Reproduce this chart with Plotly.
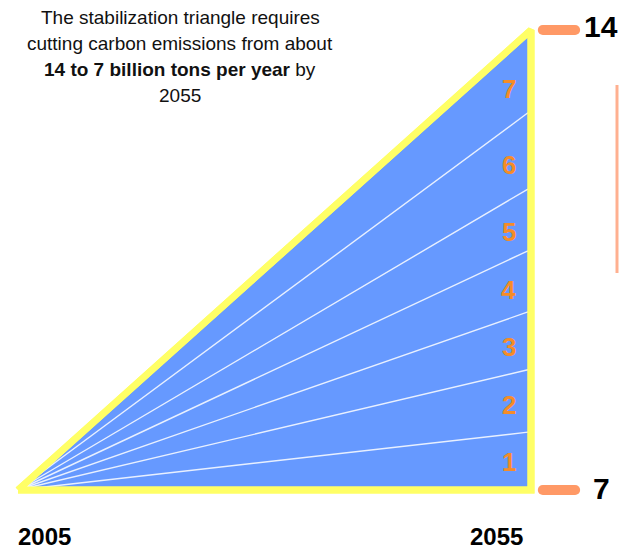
import plotly.graph_objects as go

# ---- data ----
year_start = 2005
year_end = 2055
emission_low = 7      # billion tons per year (target, 2055)
emission_high = 14    # billion tons per year (business as usual, 2055)
# wedge boundary values on the 2055 edge
wedge_boundaries = [7.88, 8.83, 9.71, 10.64, 11.58, 12.74]
wedge_labels = ["1", "2", "3", "4", "5", "6", "7"]
year_labels = ["2005", "2055"]
value_labels = ["14", "7"]
title_lines = [
    "The stabilization triangle requires",
    "cutting carbon emissions from about",
    "<b>14 to 7 billion tons per year</b> by",
    "2055",
]

# ---- styles ----
BLUE = "#6699FF"
YELLOW = "#FFFF66"
ORANGE_TXT = "#F58C28"
SALMON = "#FF9966"

W, H = 619, 552
# pixel mapping helpers (layout only)
px_per_year = 513 / (year_end - year_start)
px_per_unit = 460 / (emission_high - emission_low)
x0 = year_start - 18 / px_per_year
x1 = x0 + W / px_per_year
y_top = emission_high + 30 / px_per_unit
y_bot = y_top - H / px_per_unit

fig = go.Figure()

# triangle fill + yellow border
fig.add_trace(go.Scatter(
    x=[year_start, year_end, year_end, year_start],
    y=[emission_low, emission_high, emission_low, emission_low],
    mode="lines", fill="toself", fillcolor=BLUE,
    line=dict(color=YELLOW, width=7), hoverinfo="skip", showlegend=False))

# wedge boundaries
for b in wedge_boundaries:
    fig.add_trace(go.Scatter(
        x=[year_start, year_end - 0.3], y=[emission_low, b],
        mode="lines", line=dict(color="rgba(255,255,255,0.85)", width=1.4),
        hoverinfo="skip", showlegend=False))

# redraw border on top
fig.add_trace(go.Scatter(
    x=[year_start, year_end, year_end, year_start],
    y=[emission_low, emission_high, emission_low, emission_low],
    mode="lines", line=dict(color=YELLOW, width=7),
    hoverinfo="skip", showlegend=False))

# wedge number labels
label_x = year_end - 2.15
frac = (label_x - year_start) / (year_end - year_start)
edges = [emission_low] + wedge_boundaries + [emission_high]
for i, lab in enumerate(wedge_labels):
    lo = emission_low + (edges[i] - emission_low) * frac
    hi = emission_low + (edges[i + 1] - emission_low) * frac
    fig.add_annotation(x=label_x, y=(lo + hi) / 2, text=f"<b>{lab}</b>", showarrow=False,
                       font=dict(family="Liberation Sans, Arial", size=26, color=ORANGE_TXT),
                       xanchor="center", yanchor="middle")

# salmon markers at 14 and 7
bar_x0 = year_end + 1.15
bar_x1 = year_end + 4.3
for v in [emission_high, emission_low]:
    fig.add_trace(go.Scatter(
        x=[bar_x0, bar_x1], y=[v, v], mode="lines+markers",
        line=dict(color=SALMON, width=10),
        marker=dict(color=SALMON, size=10, line=dict(width=0)),
        hoverinfo="skip", showlegend=False))

# value labels 14 / 7
for lab, v, dx, dy in zip(value_labels, [emission_high, emission_low], [5.0, 5.8], [0.06, 0.03]):
    fig.add_annotation(x=year_end + dx, y=v + dy, text=f"<b>{lab}</b>", showarrow=False,
                       font=dict(family="Liberation Sans, Arial", size=30, color="black"),
                       xanchor="left", yanchor="middle")

# year labels
for lab, yr, dx in zip(year_labels, [year_start, year_end], [2.6, -3.4]):
    fig.add_annotation(x=yr + dx, y=emission_low - 0.7, text=f"<b>{lab}</b>", showarrow=False,
                       font=dict(family="Liberation Sans, Arial", size=24, color="black"),
                       xanchor="center", yanchor="middle")

# title block, one annotation per line (26 px line spacing)
for i, line in enumerate(title_lines):
    fig.add_annotation(x=180 / W, y=1 - (17 + 26 * i) / H, xref="paper", yref="paper",
                       text=line, showarrow=False, align="center",
                       xanchor="center", yanchor="middle",
                       font=dict(family="Liberation Sans, Arial", size=19, color="#111111"))

# thin cropped orange edge at far right
fig.add_shape(type="line", xref="paper", yref="paper",
              x0=617 / W, x1=617 / W, y0=1 - 85 / H, y1=1 - 273 / H,
              line=dict(color="#FFB090", width=3))

fig.update_layout(
    width=W, height=H, margin=dict(l=0, r=0, t=0, b=0),
    paper_bgcolor="white", plot_bgcolor="white",
    xaxis=dict(range=[x0, x1], visible=False, fixedrange=True),
    yaxis=dict(range=[y_bot, y_top], visible=False, fixedrange=True),
)

fig.write_html("out.html")
